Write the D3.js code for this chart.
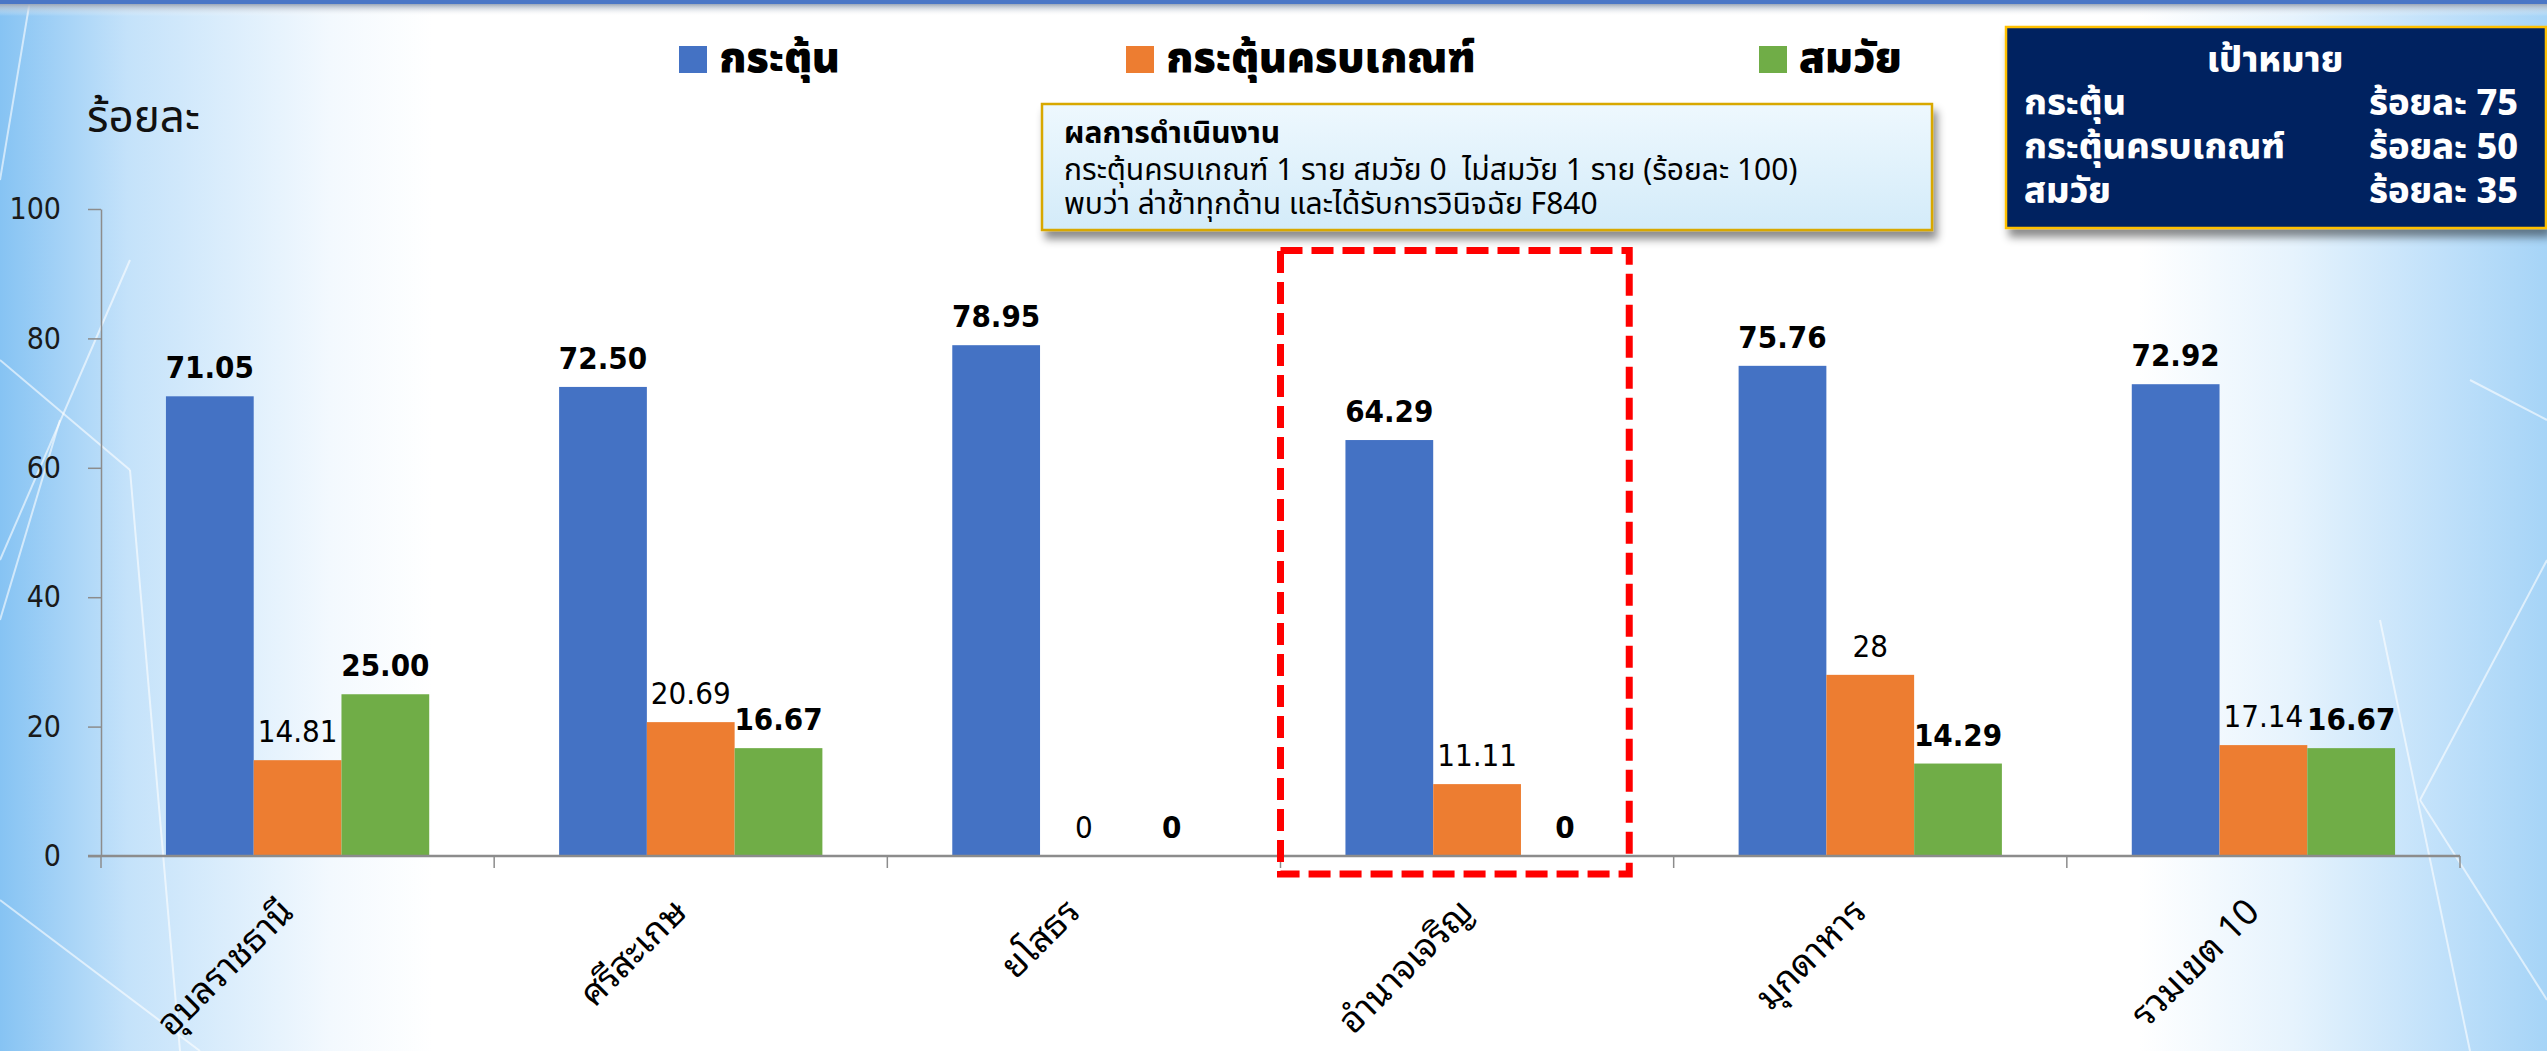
<!DOCTYPE html>
<meta charset="utf-8">
<script src="https://cdn.jsdelivr.net/npm/d3@7"></script>
<style>
body { margin: 0; background: #fff; overflow: hidden; }
.thai { font-family: "Noto Sans Thai", Tahoma, sans-serif; }
.looped { font-family: "Noto Sans Thai Looped", "Noto Sans Thai", Tahoma, sans-serif; }
.num { font-family: "DejaVu Sans Condensed", "DejaVu Sans", Tahoma, sans-serif; }
</style>
<body>
<script>

var categories = ["อุบลราชธานี", "ศรีสะเกษ", "ยโสธร", "อำนาจเจริญ", "มุกดาหาร", "รวมเขต 10"]
var seriesNames = ["กระตุ้น", "กระตุ้นครบเกณฑ์", "สมวัย"]
var stimValues = [71.05, 72.50, 78.95, 64.29, 75.76, 72.92]
var fullValues = [14.81, 20.69, 0, 11.11, 28, 17.14]
var ageValues = [25.00, 16.67, 0, 0, 14.29, 16.67]
var stimLabels = ["71.05", "72.50", "78.95", "64.29", "75.76", "72.92"]
var fullLabels = ["14.81", "20.69", "0", "11.11", "28", "17.14"]
var ageLabels = ["25.00", "16.67", "0", "0", "14.29", "16.67"]
var yTicks = [0, 20, 40, 60, 80, 100]
var yTitle = "ร้อยละ"
var targetTitle = "เป้าหมาย"
var targetNames = ["กระตุ้น", "กระตุ้นครบเกณฑ์", "สมวัย"]
var targetValues = ["ร้อยละ 75", "ร้อยละ 50", "ร้อยละ 35"]
var infoTitle = "ผลการดำเนินงาน"
var infoLines = ["กระตุ้นครบเกณฑ์ 1 ราย สมวัย 0  ไม่สมวัย 1 ราย (ร้อยละ 100)", "พบว่า ล่าช้าทุกด้าน และได้รับการวินิจฉัย F840"]
var highlight = "อำนาจเจริญ"

var colors = ["#4472c4", "#ed7d31", "#70ad47"]
var W = 2547, H = 1051
var plotL = 101, plotR = 2460, plotT = 209, plotB = 856

var svg = d3.select("body").append("svg").attr("width", W).attr("height", H)
var defs = svg.append("defs")

// background: blue edges fading to white
var bg = defs.append("linearGradient").attr("id", "bg")
bg.selectAll("stop").data([[0, "#86c3f3"], [0.05, "#c4e2fa"], [0.13, "#f3f9fe"], [0.17, "#ffffff"], [0.84, "#ffffff"], [0.9, "#e6f3fd"], [0.96, "#bfe0fa"], [1, "#a6d4f7"]])
  .enter().append("stop").attr("offset", d => d[0]).attr("stop-color", d => d[1])
var topShade = defs.append("linearGradient").attr("id", "topShade").attr("x1", 0).attr("x2", 0).attr("y1", 0).attr("y2", 1)
topShade.append("stop").attr("offset", 0).attr("stop-color", "#9aa6b8")
topShade.append("stop").attr("offset", 1).attr("stop-color", "#ffffff").attr("stop-opacity", 0)
var infoFill = defs.append("linearGradient").attr("id", "infoFill").attr("x1", 0).attr("x2", 0).attr("y1", 0).attr("y2", 1)
infoFill.append("stop").attr("offset", 0).attr("stop-color", "#eef8fe")
infoFill.append("stop").attr("offset", 1).attr("stop-color", "#d3ebf9")
var shadow = defs.append("filter").attr("id", "shadow").attr("x", "-10%").attr("y", "-10%").attr("width", "130%").attr("height", "140%")
shadow.append("feDropShadow").attr("dx", 4).attr("dy", 8).attr("stdDeviation", 4).attr("flood-color", "#000").attr("flood-opacity", 0.45)

svg.append("rect").attr("width", W).attr("height", H).attr("fill", "url(#bg)")

// faint network lines on the sides
var deco = svg.append("g").attr("stroke", "#ffffff").attr("stroke-opacity", 0.6).attr("stroke-width", 2)
;[[0, 560, 130, 260], [0, 900, 200, 1051], [30, 0, 0, 180], [0, 360, 130, 470], [130, 470, 180, 1051], [60, 420, 0, 620],
  [2547, 560, 2420, 800], [2420, 800, 2547, 1000], [2470, 380, 2547, 420], [2380, 620, 2470, 1051]].forEach(l => {
  deco.append("line").attr("x1", l[0]).attr("y1", l[1]).attr("x2", l[2]).attr("y2", l[3])
})

svg.append("rect").attr("width", W).attr("height", 4).attr("fill", "#4a76c6")
svg.append("rect").attr("y", 4).attr("width", W).attr("height", 12).attr("fill", "url(#topShade)")

var x0 = d3.scaleBand().domain(categories).range([plotL, plotR])
var x1 = d3.scaleBand().domain(seriesNames).range([0, x0.bandwidth()]).paddingOuter(0.74)
var y = d3.scaleLinear().domain([0, 100]).range([plotB, plotT])

var rows = categories.map((c, i) => ({
  cat: c,
  vals: [
    {s: seriesNames[0], v: stimValues[i], t: stimLabels[i], bold: true},
    {s: seriesNames[1], v: fullValues[i], t: fullLabels[i], bold: false},
    {s: seriesNames[2], v: ageValues[i], t: ageLabels[i], bold: true}
  ]
}))

// y axis
var yAxis = svg.append("g").attr("transform", "translate(" + plotL + ",0)")
  .call(d3.axisLeft(y).tickValues(yTicks).tickSize(13).tickSizeOuter(0).tickPadding(27))
yAxis.select(".domain").attr("stroke", "#8c8c8c").attr("stroke-width", 1.5)
yAxis.selectAll(".tick line").attr("stroke", "#8c8c8c").attr("stroke-width", 1.5)
yAxis.selectAll(".tick text").attr("class", "num").attr("font-size", 30).attr("fill", "#1a1a1a")

svg.append("text").attr("class", "thai").attr("x", 87).attr("y", 132).attr("font-size", 44)
  .style("font-stretch", "condensed").attr("fill", "#111").text(yTitle)

// bars
var groups = svg.append("g").selectAll("g").data(rows).enter().append("g")
  .attr("transform", d => "translate(" + x0(d.cat) + ",0)")
groups.selectAll("rect").data(d => d.vals).enter().append("rect")
  .attr("x", d => x1(d.s)).attr("width", x1.bandwidth())
  .attr("y", d => y(d.v)).attr("height", d => y(0) - y(d.v))
  .attr("fill", (d, i) => colors[i])
groups.selectAll("text").data(d => d.vals).enter().append("text")
  .attr("class", "num")
  .attr("x", d => x1(d.s) + x1.bandwidth() / 2).attr("y", d => y(d.v) - 18)
  .attr("text-anchor", "middle").attr("font-size", 31)
  .attr("font-weight", d => d.bold ? "bold" : "normal").attr("fill", "#000")
  .text(d => d.t)

// x axis with ticks between categories
var xAxis = svg.append("g")
xAxis.append("line").attr("x1", plotL - 13).attr("x2", plotR).attr("y1", plotB).attr("y2", plotB)
  .attr("stroke", "#8c8c8c").attr("stroke-width", 2.5)
xAxis.selectAll(".tk").data(categories.map(c => x0(c)).concat([plotR])).enter().append("line")
  .attr("x1", d => d).attr("x2", d => d).attr("y1", plotB).attr("y2", plotB + 12)
  .attr("stroke", "#8c8c8c").attr("stroke-width", 1.5)
xAxis.selectAll(".lab").data(categories).enter().append("text")
  .attr("class", "looped")
  .attr("transform", d => "translate(" + (x0(d) + x0.bandwidth() / 2 - 2) + "," + (plotB + 58) + ") rotate(-45)")
  .attr("text-anchor", "end").attr("font-size", 36).attr("fill", "#000")
  .text(d => d)

// highlight box
svg.append("rect")
  .attr("x", x0(highlight)).attr("y", y(93.6))
  .attr("width", x0.bandwidth() * 0.887).attr("height", y(0) - y(93.6) + 18)
  .attr("fill", "none").attr("stroke", "#ff0000").attr("stroke-width", 7).attr("stroke-dasharray", "22,9")

// legend
var legendX = [679, 1126, 1759]
var legend = svg.append("g").selectAll("g").data(seriesNames).enter().append("g")
  .attr("transform", (d, i) => "translate(" + legendX[i] + ",46)")
legend.append("rect").attr("width", 28).attr("height", 27).attr("fill", (d, i) => colors[i])
legend.append("text").attr("class", "thai").attr("x", 40).attr("y", 26)
  .attr("font-size", 42).attr("font-weight", 900).style("font-stretch", "semi-condensed")
  .attr("fill", "#000").text(d => d)

// info box
var info = svg.append("g").attr("transform", "translate(1042,104)")
info.append("rect").attr("width", 890).attr("height", 126).attr("fill", "url(#infoFill)")
  .attr("stroke", "#d8a800").attr("stroke-width", 2.5).attr("filter", "url(#shadow)")
info.append("text").attr("class", "thai").attr("x", 22).attr("y", 39).attr("font-size", 30)
  .style("font-stretch", "condensed").attr("font-weight", "bold").attr("fill", "#000").text(infoTitle)
info.selectAll(".ln").data(infoLines).enter().append("text").attr("class", "thai")
  .attr("x", 22).attr("y", (d, i) => 76 + i * 34).attr("font-size", 30).style("font-stretch", "condensed")
  .attr("fill", "#000").style("white-space", "pre").text(d => d)

// target box
var tgt = svg.append("g").attr("transform", "translate(2006,27)")
tgt.append("rect").attr("width", 540).attr("height", 201).attr("fill", "#002060")
  .attr("stroke", "#ffc000").attr("stroke-width", 2.5).attr("filter", "url(#shadow)")
tgt.append("text").attr("class", "thai").attr("x", 269).attr("y", 45).attr("text-anchor", "middle")
  .attr("font-size", 36).attr("font-weight", 800).attr("fill", "#fff").text(targetTitle)
tgt.selectAll(".tn").data(targetNames).enter().append("text").attr("class", "thai")
  .attr("x", 18).attr("y", (d, i) => 88 + i * 44).attr("font-size", 36).attr("font-weight", 800)
  .attr("fill", "#fff").text(d => d)
tgt.selectAll(".tv").data(targetValues).enter().append("text").attr("class", "thai")
  .attr("x", 512).attr("y", (d, i) => 88 + i * 44).attr("text-anchor", "end").attr("font-size", 36)
  .attr("font-weight", 800).attr("fill", "#fff").text(d => d)

</script>
</body>
